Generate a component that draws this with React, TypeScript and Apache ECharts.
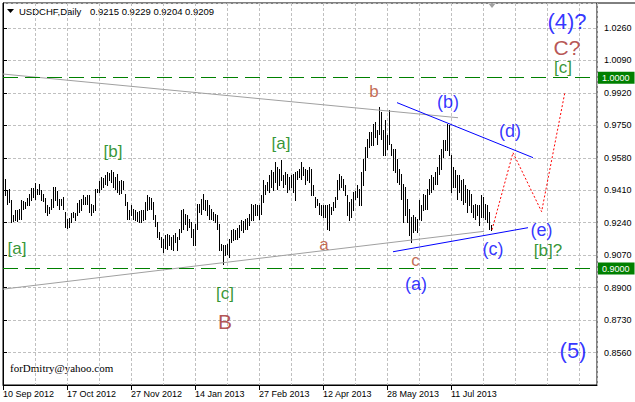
import React, { useEffect, useRef } from "react";
import * as echarts from "echarts";

// ---------- data ----------
const SYMBOL = "USDCHF";
const TIMEFRAME = "Daily";
const LAST_BAR = [0.9215, 0.9229, 0.9204, 0.9209]; // open, high, low, close

// date labels, one every 32 bars starting at the first bar
const DATE_LABELS = [
  "10 Sep 2012",
  "17 Oct 2012",
  "27 Nov 2012",
  "14 Jan 2013",
  "27 Feb 2013",
  "12 Apr 2013",
  "28 May 2013",
  "11 Jul 2013",
];

// daily highs (bars 0..242); the last bar comes from LAST_BAR
const HIGHS = [
  0.9471, 0.9413, 0.9418, 0.9357, 0.9282, 0.9305, 0.9305, 0.9313, 0.9361, 0.9352,
  0.9348, 0.9369, 0.9392, 0.9422, 0.9422, 0.9448, 0.9418, 0.9444, 0.9409, 0.9392,
  0.9369, 0.9331, 0.9322, 0.9362, 0.9427, 0.9427, 0.9404, 0.9366, 0.9362, 0.9375,
  0.9296, 0.9261, 0.9264, 0.9292, 0.9296, 0.9292, 0.9345, 0.9357, 0.9366, 0.9387,
  0.9375, 0.9387, 0.9383, 0.934, 0.9331, 0.9418, 0.9418, 0.9457,
  0.9479, 0.9474, 0.9488, 0.9506, 0.9502, 0.9514, 0.9506, 0.9479, 0.9497, 0.9457,
  0.9462, 0.9457, 0.9392, 0.9348, 0.9305, 0.9331, 0.931, 0.9305, 0.9296, 0.9299,
  0.9305, 0.9308, 0.9348, 0.9383, 0.9375, 0.9369, 0.9348, 0.9278, 0.9243, 0.9191,
  0.9165, 0.9156, 0.9174, 0.9182, 0.9174, 0.9165, 0.9174, 0.9188, 0.9165, 0.9209,
  0.9305, 0.931, 0.9287, 0.9278, 0.9261, 0.9243, 0.9205, 0.9235, 0.934,
  0.934, 0.9366, 0.9392, 0.9357, 0.9357, 0.9331, 0.9313, 0.9296, 0.9287, 0.9278,
  0.9235, 0.913, 0.9121, 0.9121, 0.913, 0.9156, 0.92, 0.9209, 0.92, 0.9212,
  0.9226, 0.9252, 0.9247, 0.9261, 0.9264, 0.9287, 0.934, 0.9331, 0.934, 0.9334,
  0.9331, 0.9383, 0.9462, 0.9436, 0.9453, 0.9488, 0.9514, 0.9506, 0.9558, 0.9532,
  0.9523, 0.9567, 0.9488, 0.9506, 0.9497, 0.9479, 0.9488, 0.9497, 0.9506,
  0.9509, 0.9523, 0.9558, 0.9532, 0.9523, 0.9514, 0.9532, 0.9523, 0.9439, 0.9375,
  0.9366, 0.9345, 0.9331, 0.9334, 0.9334, 0.9331, 0.934, 0.9322, 0.9348, 0.9375,
  0.9462, 0.9497, 0.9485, 0.9471, 0.9439, 0.9383, 0.9348, 0.9366, 0.9401, 0.9404,
  0.9436, 0.9418, 0.9506, 0.9575, 0.9637, 0.968, 0.9715, 0.9715, 0.9759, 0.9768,
  0.9724, 0.9846, 0.982, 0.9724, 0.9776, 0.9698, 0.9829, 0.9654, 0.9628,
  0.9628, 0.9575, 0.9523, 0.9497, 0.9444, 0.9427, 0.9366, 0.9313, 0.927, 0.9278,
  0.927, 0.9261, 0.9357, 0.9331, 0.9392, 0.9383, 0.9418, 0.9471, 0.9488, 0.9479,
  0.9506, 0.9532, 0.9593, 0.9628, 0.9672, 0.9672, 0.9759, 0.975, 0.9593, 0.9532,
  0.9514, 0.9488, 0.9488, 0.9462, 0.9471, 0.9436, 0.9418, 0.9409, 0.9392, 0.9331,
  0.934, 0.9331, 0.9331, 0.9383, 0.9375, 0.934, 0.9331, 0.9296,
];

// daily lows (bars 0..242)
const LOWS = [
  0.9383, 0.934, 0.9348, 0.9243, 0.9247, 0.9252, 0.9247, 0.9261, 0.9261, 0.9313,
  0.9317, 0.9331, 0.9334, 0.9357, 0.9375, 0.9366, 0.9392, 0.9392, 0.9357, 0.9352,
  0.9296, 0.9278, 0.9292, 0.9313, 0.9322, 0.9357, 0.9331, 0.9313, 0.9334, 0.9313,
  0.9217, 0.9214, 0.9217, 0.9243, 0.927, 0.9252, 0.9282, 0.9296, 0.9305, 0.934,
  0.934, 0.934, 0.9296, 0.9278, 0.9296, 0.9305, 0.9401, 0.9401,
  0.9418, 0.9427, 0.9444, 0.9436, 0.9462, 0.9453, 0.9427, 0.9418, 0.9401, 0.9392,
  0.9396, 0.9418, 0.9331, 0.9261, 0.9261, 0.9278, 0.9257, 0.9252, 0.9247, 0.9243,
  0.9243, 0.9252, 0.9257, 0.9305, 0.9313, 0.9313, 0.9261, 0.9223, 0.9165, 0.9156,
  0.9112, 0.9086, 0.9107, 0.9104, 0.9121, 0.9104, 0.9095, 0.9139, 0.9095, 0.9156,
  0.9191, 0.9209, 0.9235, 0.92, 0.9217, 0.9165, 0.9121, 0.9121, 0.9209,
  0.9296, 0.9287, 0.9313, 0.9305, 0.9278, 0.9261, 0.9261, 0.9252, 0.9243, 0.9209,
  0.9095, 0.9095, 0.9025, 0.9069, 0.9078, 0.906, 0.9139, 0.9147, 0.9156, 0.9156,
  0.9165, 0.92, 0.9191, 0.9209, 0.9209, 0.9226, 0.9252, 0.9252, 0.9278, 0.9278,
  0.9261, 0.9287, 0.9348, 0.9392, 0.9409, 0.9401, 0.9427, 0.9409, 0.9453, 0.9418,
  0.9436, 0.9462, 0.9427, 0.9444, 0.9401, 0.9418, 0.9427, 0.9401, 0.9357,
  0.9471, 0.9479, 0.9471, 0.9488, 0.9444, 0.9462, 0.9453, 0.9383, 0.9383, 0.9322,
  0.9331, 0.9287, 0.9278, 0.927, 0.927, 0.9209, 0.92, 0.9287, 0.9305, 0.9322,
  0.9366, 0.9418, 0.9427, 0.9409, 0.9383, 0.9278, 0.9252, 0.927, 0.9305, 0.9366,
  0.9375, 0.9331, 0.9331, 0.9436, 0.9514, 0.9584, 0.9637, 0.9645, 0.9645, 0.9689,
  0.9654, 0.9706, 0.968, 0.9593, 0.9593, 0.9628, 0.9654, 0.9593, 0.9514,
  0.9506, 0.9453, 0.9444, 0.9366, 0.9243, 0.9278, 0.9243, 0.9174, 0.9139, 0.9191,
  0.92, 0.9191, 0.9261, 0.9252, 0.9305, 0.9313, 0.9313, 0.9392, 0.9401, 0.9418,
  0.9444, 0.9444, 0.9497, 0.9523, 0.9584, 0.9619, 0.9619, 0.9593, 0.9401, 0.9427,
  0.9427, 0.9366, 0.9401, 0.9357, 0.934, 0.9348, 0.9296, 0.9331, 0.9296, 0.927,
  0.9261, 0.9278, 0.9226, 0.927, 0.927, 0.9261, 0.9243, 0.9209,
];

// horizontal levels
const LEVELS = [1.0, 0.9];

// trend lines: [bar position, price]
const UPPER_GRAY = [[0, 1.0019], [227.5, 0.979]];
const LOWER_GRAY = [[0, 0.8892], [240.5, 0.9195]];
const UPPER_BLUE = [[197, 0.9869], [265, 0.9581]];
const LOWER_BLUE = [[195, 0.9088], [262.5, 0.9214]];
const PROJECTION = [[244.5, 0.9203], [255, 0.9607], [269.3, 0.9298], [281, 0.9926]];

// wave labels: text, bar position, price, degree
const WAVE_TEXT = ["[a]", "[b]", "[c]", "B", "[a]", "a", "b", "c", "(a)", "(b)", "(c)", "(d)", "(e)", "[b]?", "[c]", "C?", "(4)?", "(5)"];
const WAVE_AT = [7, 55, 111, 111, 139, 160.5, 185.5, 206.3, 206.5, 222.5, 245, 253.5, 269.3, 272.5, 280, 282, 282, 285];
const WAVE_PRICE = [0.9104, 0.9612, 0.8868, 0.8723, 0.9654, 0.9127, 0.9928, 0.9042, 0.892, 0.9874, 0.9104, 0.9722, 0.92, 0.9095, 1.0052, 1.0158, 1.0293, 0.8571];
const WAVE_DEGREE = ["minor", "minor", "minor", "major", "minor", "minute", "minute", "minute", "sub", "sub", "sub", "sub", "sub", "minor", "minor", "majorBig", "top", "top"];

// ---------- styles ----------
const FONT = "'Liberation Sans', Arial, sans-serif";
const DEGREE_STYLE: Record<string, { color: string; size: number }> = {
  minor: { color: "#007a00", size: 17 },
  major: { color: "#a02828", size: 21 },
  majorBig: { color: "#a52a2a", size: 21 },
  minute: { color: "#b4462a", size: 17 },
  sub: { color: "#0000ff", size: 18 },
  top: { color: "#0000ff", size: 22 },
};

const AXIS_MIN = 0.839;
const AXIS_MAX = 1.0391;

export default function App() {
  const ref = useRef<HTMLDivElement>(null);

  useEffect(() => {
    if (!ref.current) return;
    const chart = echarts.init(ref.current, undefined, { renderer: "svg" });

    const highs = [...HIGHS, LAST_BAR[1]];
    const lows = [...LOWS, LAST_BAR[2]];
    const bars = highs.map((h, i) => [i + 1, lows[i], h]);
    const dateTicks = DATE_LABELS.map((_, k) => k * 32);

    const lineSeries = (data: number[][], color: string, type: any, z = 5) => ({
      type: "line",
      data,
      symbol: "none",
      showSymbol: false,
      silent: true,
      animation: false,
      z,
      lineStyle: { color, width: 1, type },
    });

    const gridSplit = { show: true, lineStyle: { color: "#c0c0c0", type: [3, 2], width: 1 } };

    const option: any = {
      animation: false,
      backgroundColor: "#ffffff",
      textStyle: { fontFamily: FONT },
      grid: {
        left: 3,
        top: 3,
        right: 38,
        bottom: 17,
        show: true,
        borderColor: "#000",
        borderWidth: 1,
        backgroundColor: "transparent",
      },
      xAxis: [
        {
          type: "value",
          position: "top",
          min: 0,
          max: 297,
          interval: 16,
          axisLine: { show: false },
          axisTick: { show: false },
          axisLabel: { show: false },
          splitLine: gridSplit,
        },
        {
          type: "value",
          position: "bottom",
          min: 0,
          max: 297,
          interval: 32,
          axisLine: { show: true, lineStyle: { color: "#000", width: 1 } },
          axisTick: {
            show: true,
            length: 5,
            lineStyle: { color: "#000" },
            customValues: dateTicks,
          },
          axisLabel: {
            show: true,
            customValues: dateTicks,
            formatter: (v: number) => (v % 32 === 0 && DATE_LABELS[v / 32]) || "",
            align: "left",
            margin: 4,
            fontSize: 9,
            fontFamily: FONT,
            color: "#000",
            hideOverlap: false,
          },
          splitLine: { show: false },
        },
      ],
      yAxis: {
        type: "value",
        position: "right",
        min: AXIS_MIN,
        max: AXIS_MAX,
        interval: 0.017,
        axisLine: { show: true, lineStyle: { color: "#000", width: 1 } },
        axisTick: { show: true, length: 4, lineStyle: { color: "#000" } },
        axisLabel: {
          formatter: (v: number) => v.toFixed(4),
          margin: 7,
          fontSize: 9,
          fontFamily: FONT,
          color: "#000",
          showMinLabel: false,
          showMaxLabel: false,
        },
        splitLine: gridSplit,
      },
      series: [
        {
          type: "custom",
          name: SYMBOL,
          data: bars,
          silent: true,
          z: 3,
          encode: { x: 0, y: [1, 2] },
          renderItem: (_params: any, api: any) => {
            const v = api.value(0);
            const lo = api.coord([v, api.value(1)]);
            const hi = api.coord([v, api.value(2)]);
            const x = Math.floor(lo[0]);
            const y1 = Math.round(hi[1]);
            const y2 = Math.round(lo[1]);
            return {
              type: "rect",
              shape: { x, y: y1, width: 1, height: Math.max(1, y2 - y1 + 1) },
              style: { fill: "#000" },
            };
          },
        },
        {
          ...lineSeries(UPPER_GRAY, "#a0a0a0", "solid", 4),
          markLine: {
            silent: true,
            symbol: ["none", "none"],
            animation: false,
            data: LEVELS.map((l) => ({ yAxis: l })),
            lineStyle: { color: "#008000", type: [15, 7], width: 1 },
            label: {
              show: true,
              position: "end",
              formatter: (p: any) => Number(p.value).toFixed(4),
              backgroundColor: "#008000",
              color: "#fff",
              padding: [2, 5, 1, 4],
              distance: 1,
              fontSize: 9,
              fontFamily: FONT,
            },
            emphasis: { disabled: true },
          },
        },
        lineSeries(LOWER_GRAY, "#a0a0a0", "solid", 4),
        lineSeries(UPPER_BLUE, "#0000ff", "solid", 6),
        lineSeries(LOWER_BLUE, "#0000ff", "solid", 6),
        lineSeries(PROJECTION, "#ff0000", [2, 2], 6),
        {
          type: "scatter",
          silent: true,
          symbolSize: 1,
          z: 8,
          itemStyle: { color: "transparent" },
          label: {
            show: true,
            position: "inside",
            formatter: (p: any) => p.name,
            fontFamily: FONT,
          },
          data: WAVE_TEXT.map((t, i) => ({
            name: t,
            value: [WAVE_AT[i], WAVE_PRICE[i]],
            label: {
              color: DEGREE_STYLE[WAVE_DEGREE[i]].color,
              fontSize: DEGREE_STYLE[WAVE_DEGREE[i]].size,
            },
          })),
        },
      ],
      graphic: [
        {
          type: "polygon",
          shape: { points: [[7, 9], [14, 9], [10.5, 13]] },
          style: { fill: "#000" },
          silent: true,
        },
        {
          type: "text",
          x: 19,
          y: 11,
          style: {
            text: `${SYMBOL},${TIMEFRAME}`,
            fill: "#000",
            font: `9.5px ${FONT}`,
            verticalAlign: "middle",
            align: "left",
          },
          silent: true,
        },
        {
          type: "text",
          x: 90,
          y: 11,
          style: {
            text: LAST_BAR.map((v) => v.toFixed(4)).join(" "),
            fill: "#000",
            font: `9.5px ${FONT}`,
            verticalAlign: "middle",
            align: "left",
          },
          silent: true,
        },
        {
          type: "polygon",
          shape: { points: [[488, 3], [496, 3], [492, 8]] },
          style: { fill: "#a0a0a0" },
          silent: true,
        },
        {
          type: "line",
          shape: { x1: 597, y1: 3, x2: 635, y2: 3 },
          style: { stroke: "#000", lineWidth: 1 },
          silent: true,
        },
        {
          type: "text",
          x: 10,
          y: 368,
          style: {
            text: "forDmitry@yahoo.com",
            fill: "#000",
            font: "11px 'Liberation Serif', 'Times New Roman', serif",
            verticalAlign: "middle",
            align: "left",
          },
          silent: true,
        },
      ],
    };

    chart.setOption(option);
    return () => chart.dispose();
  }, []);

  return (
    <div
      ref={ref}
      style={{ position: "fixed", left: 0, top: 0, width: 635, height: 402, background: "#fff" }}
    />
  );
}
